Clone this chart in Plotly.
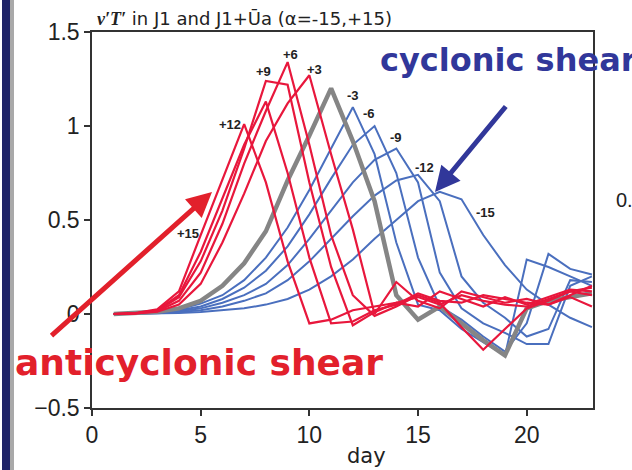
import plotly.graph_objects as go

# ---------------- data ----------------
days = list(range(1, 24))

red_p15 = [0.0, 0.005, 0.025, 0.12, 0.42, 0.72, 1.01, 0.70, 0.28, -0.05, -0.03, 0.02, 0.04, 0.06, 0.09, 0.05, 0.10, 0.07, 0.05, 0.04, 0.08, 0.12, 0.14]
red_p12 = [0.0, 0.004, 0.02, 0.10, 0.33, 0.62, 0.90, 1.13, 0.75, 0.30, -0.05, -0.04, 0.02, 0.05, 0.11, 0.07, 0.06, 0.10, 0.08, 0.06, 0.05, 0.10, 0.15]
red_p9 = [0.0, 0.004, 0.018, 0.09, 0.28, 0.55, 0.88, 1.24, 1.22, 0.70, 0.25, -0.06, 0.01, 0.06, 0.04, 0.12, 0.08, 0.04, 0.09, 0.05, 0.09, 0.13, 0.12]
red_p6 = [0.0, 0.003, 0.015, 0.07, 0.22, 0.48, 0.80, 1.08, 1.34, 0.90, 0.42, 0.10, -0.01, 0.04, 0.10, 0.06, -0.07, -0.19, -0.08, 0.03, 0.07, 0.12, 0.10]
red_p3 = [0.0, 0.003, 0.012, 0.05, 0.16, 0.38, 0.64, 0.92, 1.12, 1.27, 0.85, 0.45, 0.0, 0.17, 0.07, 0.03, 0.12, 0.09, 0.06, 0.08, 0.05, 0.09, 0.04]
gray_0 = [0.0, 0.004, 0.012, 0.03, 0.07, 0.15, 0.27, 0.44, 0.71, 0.95, 1.20, 0.92, 0.60, 0.10, -0.03, 0.04, -0.05, -0.14, -0.22, 0.03, 0.07, 0.09, 0.11]
blue_m3 = [0.0, 0.003, 0.01, 0.025, 0.055, 0.10, 0.18, 0.30, 0.46, 0.66, 0.88, 1.10, 0.85, 0.38, 0.05, 0.02, -0.08, -0.15, -0.22, 0.29, 0.25, 0.20, 0.15]
blue_m6 = [0.0, 0.002, 0.008, 0.02, 0.04, 0.08, 0.14, 0.23, 0.36, 0.53, 0.72, 0.90, 1.00, 0.75, 0.30, 0.04, -0.03, -0.12, -0.20, -0.05, 0.32, 0.24, 0.21]
blue_m9 = [0.0, 0.002, 0.006, 0.015, 0.03, 0.06, 0.10, 0.16, 0.26, 0.40, 0.55, 0.70, 0.82, 0.88, 0.70, 0.22, 0.03, -0.05, -0.10, -0.16, -0.16, 0.15, 0.20]
blue_m12 = [0.0, 0.001, 0.004, 0.01, 0.02, 0.04, 0.07, 0.11, 0.18, 0.28, 0.40, 0.52, 0.63, 0.71, 0.74, 0.60, 0.20, 0.06, -0.02, -0.12, -0.08, 0.18, 0.17]
blue_m15 = [0.0, 0.001, 0.002, 0.005, 0.01, 0.02, 0.03, 0.05, 0.08, 0.13, 0.20, 0.29, 0.40, 0.50, 0.60, 0.65, 0.61, 0.42, 0.26, 0.13, 0.05, -0.02, -0.07]

red_series = {"+15": red_p15, "+12": red_p12, "+9": red_p9, "+6": red_p6, "+3": red_p3}
blue_series = {"-3": blue_m3, "-6": blue_m6, "-9": blue_m9, "-12": blue_m12, "-15": blue_m15}

# curve label positions (day, value)
label_text = ["+15", "+12", "+9", "+6", "+3", "-3", "-6", "-9", "-12", "-15"]
label_day = [4.41, 6.34, 7.90, 9.12, 10.24, 12.0, 12.73, 13.99, 15.29, 18.12]
label_val = [0.43, 1.01, 1.29, 1.38, 1.30, 1.16, 1.065, 0.94, 0.78, 0.54]

x_ticks = [0, 5, 10, 15, 20]
y_ticks = [-0.5, 0, 0.5, 1, 1.5]
y_ticktext = ["\u22120.5", "0", "0.5", "1", "1.5"]

# ---------------- styling ----------------
RED = "#e8173c"
BLUE = "#4a6fbe"
GRAY = "#858585"
W, H = 632, 470
L, R, T, B = 92, 39, 32, 62
PW, PH = W - L - R, H - T - B

def xp(px):
    return (px - L) / PW

def yp(py):
    return (H - B - py) / PH

fig = go.Figure()
for name, vals in blue_series.items():
    fig.add_trace(go.Scatter(x=days, y=vals, mode="lines", name=name,
                             line=dict(color=BLUE, width=2)))
fig.add_trace(go.Scatter(x=days, y=gray_0, mode="lines", name="0",
                         line=dict(color=GRAY, width=4.5)))
for name, vals in red_series.items():
    fig.add_trace(go.Scatter(x=days, y=vals, mode="lines", name=name,
                             line=dict(color=RED, width=2.2)))

ann = []
for t, d, v in zip(label_text, label_day, label_val):
    ann.append(dict(x=d, y=v, xref="x", yref="y", text="<b>" + t + "</b>", showarrow=False,
                    font=dict(family="Liberation Sans, Arial", size=13, color="#222")))

# title
ann.append(dict(x=xp(95), y=yp(18), xref="paper", yref="paper", xanchor="left", yanchor="middle",
                showarrow=False,
                text="<span style='font-family:Liberation Serif'><b><i>v\u2032T\u2032</i></b></span> in J1 and J1+U\u0304a (\u03b1=-15,+15)",
                font=dict(family="DejaVu Sans", size=18, color="#222")))
# x axis title
ann.append(dict(x=xp(366), y=yp(456), xref="paper", yref="paper", xanchor="center", yanchor="middle",
                showarrow=False, text="day", font=dict(family="DejaVu Sans", size=21, color="#222")))
# big texts
ann.append(dict(x=xp(13), y=yp(362), xref="paper", yref="paper", xanchor="left", yanchor="middle",
                showarrow=False, text="<b>anticyclonic shear</b>",
                font=dict(family="DejaVu Sans", size=36, color="#e2202b")))
ann.append(dict(x=xp(378), y=yp(60), xref="paper", yref="paper", xanchor="left", yanchor="middle",
                showarrow=False, text="<b>cyclonic shear</b>",
                font=dict(family="DejaVu Sans", size=32, color="#31379a")))
# arrows
ann.append(dict(x=xp(212), y=yp(192), xref="paper", yref="paper", ax=50 - 212, ay=337 - 192,
                showarrow=True, arrowhead=2, arrowsize=1.0, arrowwidth=5, arrowcolor="#e2202b", text=""))
ann.append(dict(x=xp(435), y=yp(192), xref="paper", yref="paper", ax=507 - 435, ay=105 - 192,
                showarrow=True, arrowhead=2, arrowsize=1.0, arrowwidth=5, arrowcolor="#31379a", text=""))
# cut-off neighbour texts at right
ann.append(dict(x=xp(614), y=yp(200), xref="paper", yref="paper", xanchor="left", yanchor="middle",
                showarrow=False, text="0.", font=dict(family="Liberation Sans", size=20, color="#222")))

shapes = [
    dict(type="rect", xref="paper", yref="paper", x0=xp(2), x1=xp(10), y0=yp(470), y1=yp(0),
         fillcolor="#1f2468", line=dict(width=0), layer="above"),
    dict(type="rect", xref="paper", yref="paper", x0=xp(10), x1=xp(14), y0=yp(470), y1=yp(0),
         fillcolor="#a9a9a9", line=dict(width=0), layer="above"),
]

tickfont = dict(family="Liberation Sans", size=23, color="#222")
fig.update_layout(
    width=W, height=H, margin=dict(l=L, r=R, t=T, b=B),
    paper_bgcolor="white", plot_bgcolor="white", showlegend=False,
    annotations=ann, shapes=shapes,
    xaxis=dict(range=[0, 23.05], tickvals=x_ticks, ticks="outside", ticklen=6, tickwidth=1.5,
               tickcolor="#333", showline=True, linecolor="#333", linewidth=1.5, mirror=True,
               showgrid=False, zeroline=False, tickfont=tickfont),
    yaxis=dict(range=[-0.5, 1.5], tickvals=y_ticks, ticktext=y_ticktext, ticks="outside", ticklen=6,
               tickwidth=1.5, tickcolor="#333", showline=True, linecolor="#333", linewidth=1.5,
               mirror=True, showgrid=False, zeroline=False, tickfont=tickfont),
)
fig.write_html("out.html")
